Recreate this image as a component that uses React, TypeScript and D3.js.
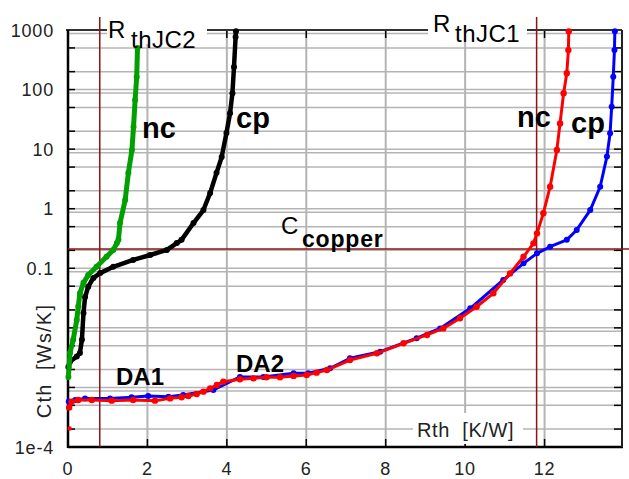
import React from 'react';
import * as d3 from 'd3';

// Rth [K/W] vs Cth [Ws/K]
const ncInner: [number, number][] = [
  [0.01, 0.0015], [0.05, 0.0038], [0.13, 0.0063], [0.22, 0.0135], [0.26, 0.023],
  [0.3, 0.038], [0.39, 0.057], [0.51, 0.077], [0.72, 0.106], [0.97, 0.156],
  [1.14, 0.203], [1.23, 0.265], [1.27, 0.3], [1.31, 0.575], [1.44, 1.4],
  [1.52, 4.0], [1.61, 9.7], [1.65, 23.5], [1.69, 67], [1.73, 163], [1.75, 500],
];

const cpInner: [number, number][] = [
  [0.01, 0.0022], [0.05, 0.0027], [0.22, 0.0033], [0.3, 0.0038], [0.35, 0.0063],
  [0.39, 0.0177], [0.43, 0.033], [0.51, 0.049], [0.64, 0.069], [0.81, 0.083],
  [1.14, 0.106], [1.64, 0.138], [2.07, 0.167], [2.49, 0.203], [2.74, 0.265],
  [2.86, 0.3], [3.16, 0.575], [3.41, 0.95], [3.58, 1.84], [3.74, 4.0],
  [3.87, 7.4], [3.99, 18.7], [4.08, 40], [4.14, 87], [4.18, 240], [4.22, 760], [4.23, 950],
];

const ncOuter: [number, number][] = [
  [0.03, 4.6e-4], [0.09, 5.75e-4], [0.26, 6.15e-4], [0.6, 6.15e-4], [1.1, 6.0e-4],
  [1.64, 6.15e-4], [2.19, 6.0e-4], [2.57, 6.55e-4], [2.86, 6.85e-4], [3.03, 7.2e-4],
  [3.24, 7.75e-4], [3.41, 8.5e-4], [3.58, 9.65e-4], [3.75, 1.1e-3], [3.91, 1.25e-3],
  [4.33, 1.37e-3], [4.67, 1.42e-3], [5.0, 1.48e-3], [5.34, 1.48e-3], [5.68, 1.56e-3],
  [6.01, 1.62e-3], [6.26, 1.77e-3], [6.52, 1.96e-3], [7.1, 2.88e-3], [7.78, 3.74e-3],
  [8.45, 5.5e-3], [9.04, 7.6e-3], [9.45, 9.8e-3], [9.87, 0.0145], [10.29, 0.0226],
  [10.71, 0.038], [11.13, 0.082], [11.47, 0.156], [11.72, 0.262], [11.81, 0.386],
  [11.97, 0.84], [12.14, 2.34], [12.31, 9.7], [12.39, 27], [12.48, 87],
  [12.56, 188], [12.6, 460], [12.61, 950],
];
const ncOuterStray: [number, number][] = [[0.04, 2.05e-4]];

const cpOuter: [number, number][] = [
  [0.02, 5.8e-4], [0.18, 6.15e-4], [0.43, 6.55e-4], [1.06, 6.55e-4], [1.6, 6.85e-4],
  [2.02, 7.2e-4], [2.53, 7.0e-4], [2.9, 7.45e-4], [3.66, 9.05e-4], [4.33, 1.5e-3],
  [4.92, 1.5e-3], [5.68, 1.73e-3], [6.05, 1.73e-3], [6.6, 2.1e-3], [7.1, 3.08e-3],
  [7.86, 3.98e-3], [8.78, 6.7e-3], [9.37, 9.8e-3], [10.13, 0.0213], [10.96, 0.0636],
  [11.47, 0.121], [11.81, 0.178], [12.14, 0.23], [12.56, 0.3], [12.81, 0.44],
  [13.15, 0.95], [13.4, 2.34], [13.57, 7.5], [13.65, 18.5], [13.69, 51.5],
  [13.73, 164], [13.76, 460], [13.77, 950],
];

// reference lines
const rthJC2 = 0.8;
const rthJC1 = 11.8;
const cCopper = 0.21;

const xTicks = [0, 2, 4, 6, 8, 10, 12];
const yLabelValues = [1000, 100, 10, 1, 0.1, 1e-4];
const yLabelTexts = ['1000', '100', '10', '1', '0.1', '1e-4'];
const decades = [1e-4, 1e-3, 1e-2, 0.1, 1, 10, 100];

const FONT = '"Liberation Sans", Arial, sans-serif';
const GRID = '#b4b4b4';
const MAROON = '#8c1414';

const App = () => {
  const x = d3.scaleLinear().domain([0, 13.95]).range([68, 622]);
  const y = d3.scaleLog().domain([1e-4, 1000]).range([447, 30]);
  const line = d3.line<[number, number]>().x(d => x(d[0])).y(d => y(d[1]));

  const [x0, x1] = x.range();
  const [yb, yt] = y.range();

  const gridVals = decades.flatMap(d => [d, 2 * d, 5 * d]).concat([1000]);
  const doubleVals = decades.slice(1).concat([1000]).map(d => d * 0.873);

  const series = [
    { data: cpInner, color: '#000000', w: 4.5, r: 3 },
    { data: ncInner, color: '#00a000', w: 5, r: 3 },
    { data: cpOuter, color: '#0000ff', w: 3, r: 3 },
    { data: ncOuter, color: '#ff0000', w: 3, r: 3.2 },
  ];

  return (
    <svg width={629} height={479} style={{ position: 'absolute', left: 0, top: 0, background: '#fff' }}>
      {/* horizontal grid */}
      {gridVals.concat(doubleVals).map((v, i) => (
        <line key={'h' + i} x1={x0} x2={x1} y1={y(v)} y2={y(v)} stroke={GRID} strokeWidth={1.5} />
      ))}
      {/* vertical grid */}
      {xTicks.slice(1).map(t => (
        <line key={'v' + t} x1={x(t)} x2={x(t)} y1={yt} y2={yb} stroke={GRID} strokeWidth={2} />
      ))}
      {/* left / right ticks */}
      {gridVals.map((v, i) => (
        <g key={'t' + i}>
          <line x1={x0} x2={x0 + 7} y1={y(v)} y2={y(v)} stroke="#000" strokeWidth={1.5} />
          <line x1={x1 - 8} x2={x1} y1={y(v)} y2={y(v)} stroke="#000" strokeWidth={1.5} />
        </g>
      ))}
      {/* top / bottom ticks */}
      {xTicks.slice(1).map(t => (
        <g key={'xt' + t}>
          <line x1={x(t)} x2={x(t)} y1={yt} y2={yt + 8} stroke="#000" strokeWidth={1.5} />
          <line x1={x(t)} x2={x(t)} y1={yb - 8} y2={yb} stroke="#000" strokeWidth={1.5} />
        </g>
      ))}
      {/* frame */}
      <line x1={x0 - 2} x2={x1} y1={yt} y2={yt} stroke="#333" strokeWidth={2} />
      <line x1={x0} x2={x0} y1={yt} y2={yb + 1} stroke="#000" strokeWidth={2.5} />
      <line x1={x0} x2={x1 + 1} y1={yb} y2={yb} stroke="#000" strokeWidth={2.5} />
      <line x1={x1} x2={x1} y1={yt} y2={yb} stroke="#222" strokeWidth={2} />

      {/* white boxes behind the labels */}
      <rect x={107} y={10} width={100} height={34} fill="#fff" />
      <rect x={428} y={6} width={99} height={36} fill="#fff" />
      <rect x={413} y={413} width={110} height={31} fill="#fff" />

      {/* reference lines */}
      <line x1={x(rthJC2)} x2={x(rthJC2)} y1={17} y2={yb} stroke={MAROON} strokeWidth={1.5} />
      <line x1={x(rthJC1)} x2={x(rthJC1)} y1={17} y2={yb} stroke={MAROON} strokeWidth={1.5} />
      <line x1={x0} x2={629} y1={y(cCopper)} y2={y(cCopper)} stroke={MAROON} strokeWidth={1.5} />

      {/* curves */}
      {series.map((s, i) => (
        <g key={'s' + i}>
          <path d={line(s.data) ?? ''} fill="none" stroke={s.color} strokeWidth={s.w} strokeLinejoin="round" />
          {s.data.map((d, j) => (
            <circle key={j} cx={x(d[0])} cy={y(d[1])} r={s.r} fill={s.color} />
          ))}
        </g>
      ))}
      {ncOuterStray.map((d, j) => (
        <circle key={'st' + j} cx={x(d[0])} cy={y(d[1])} r={2.2} fill="#ff0000" />
      ))}

      {/* tick labels */}
      <g fontFamily={FONT} fontSize={18} fill="#222" letterSpacing={0.8}>
        {yLabelValues.map((v, i) => (
          <text key={'yl' + i} x={54} y={y(v) + 6.5} textAnchor="end">{yLabelTexts[i]}</text>
        ))}
        {xTicks.map(t => (
          <text key={'xl' + t} x={x(t)} y={475} textAnchor="middle">{t}</text>
        ))}
      </g>

      {/* axis titles */}
      <text x={51} y={361} transform="rotate(-90 51 361)" textAnchor="middle" fontFamily={FONT}
        fontSize={20} fill="#222" letterSpacing={1.2} xmlSpace="preserve">{'Cth  [Ws/K]'}</text>
      <text x={417} y={437} fontFamily={FONT} fontSize={20} fill="#222" letterSpacing={0.6}
        xmlSpace="preserve">{'Rth  [K/W]'}</text>

      {/* annotations */}
      <g fontFamily={FONT} fill="#000">
        <text x={108} y={38} fontSize={24}>R</text>
        <text x={131} y={48} fontSize={24} letterSpacing={0.5}>thJC2</text>
        <text x={433} y={32} fontSize={24}>R</text>
        <text x={455} y={42} fontSize={24} letterSpacing={0.5}>thJC1</text>
        <text x={281} y={234} fontSize={24}>C</text>
        <text x={302} y={247} fontSize={23} fontWeight="bold" letterSpacing={0.8}>copper</text>
        <g fontWeight="bold" fontSize={29}>
          <text x={142} y={138}>nc</text>
          <text x={236} y={128}>cp</text>
          <text x={517} y={127}>nc</text>
          <text x={571} y={133}>cp</text>
        </g>
        <g fontWeight="bold" fontSize={24}>
          <text x={116} y={385}>DA1</text>
          <text x={236} y={372}>DA2</text>
        </g>
      </g>
    </svg>
  );
};

export default App;
